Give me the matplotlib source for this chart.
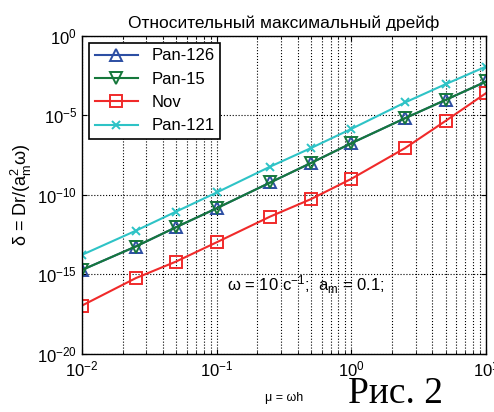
import matplotlib
matplotlib.use('Agg')
from matplotlib import pyplot as plt
import numpy as np

# Data (log10 of delta)
mu = [0.01, 0.025, 0.05, 0.1, 0.25, 0.5, 1.0, 2.5, 5.0, 10.0]
lg_pan126 = [-14.72, -13.25, -12.03, -10.84, -9.22, -8.0, -6.75, -5.18, -4.03, -2.87]
lg_pan15 = [-14.72, -13.25, -12.03, -10.84, -9.22, -8.0, -6.75, -5.18, -4.03, -2.87]
lg_nov = [-16.96, -15.24, -14.19, -12.98, -11.36, -10.27, -8.99, -7.06, -5.35, -3.60]
lg_pan121 = [-13.77, -12.26, -11.05, -9.85, -8.22, -7.06, -5.85, -4.19, -3.04, -1.93]

yticks = [1e-20, 1e-15, 1e-10, 1e-5, 1e0]

plt.rcParams['font.family'] = ['Liberation Sans', 'DejaVu Sans']
plt.rcParams['mathtext.fontset'] = 'custom'
plt.rcParams['mathtext.rm'] = 'Liberation Sans'
plt.rcParams['mathtext.it'] = 'Liberation Sans'

fig = plt.figure(figsize=(4.94, 4.12), dpi=100)
ax = fig.add_axes([0.166, 0.141, 0.818, 0.772])

series = [
    ('Pan-126', lg_pan126, '#2c4ea3', '^', 'none'),
    ('Pan-15', lg_pan15, '#16783c', 'v', 'none'),
    ('Nov', lg_nov, '#f02a2a', 's', 'none'),
    ('Pan-121', lg_pan121, '#2ec3c6', 'x', None),
]
for name, lg, col, mk, fc in series:
    kw = dict(color=col, marker=mk, markersize=8, lw=1.5, label=name,
              markeredgewidth=1.4)
    if fc is not None:
        kw['markerfacecolor'] = fc
    if mk == 'x':
        kw['markersize'] = 6
    ax.plot(mu, 10 ** np.array(lg), **kw)

ax.set_xscale('log')
ax.set_yscale('log')
ax.set_xlim(1e-2, 1e1)
ax.set_ylim(1e-20, 1e0)
ax.set_yticks(yticks)
ax.yaxis.set_minor_locator(matplotlib.ticker.NullLocator())

ax.grid(True, which='major', axis='both', ls=':', color='k', lw=0.8)
ax.grid(True, which='minor', axis='x', ls=':', color='k', lw=0.8)
ax.tick_params(which='both', direction='in', top=True, right=True,
               labelsize=12)
ax.tick_params(axis='x', pad=4)
for s in ax.spines.values():
    s.set_linewidth(1.0)

ax.set_title('Относительный максимальный дрейф', fontsize=12.5, pad=6)
ax.set_ylabel(r'δ = Dr/(a$_{\rm m}^{2}$ω)', fontsize=13, labelpad=2)
ax.set_xlabel('μ = ωh', fontsize=9, labelpad=9)

ax.text(0.12, 10 ** -15.66, r'ω = 10 с$^{-1}$;  a$_{\rm m}$ = 0.1;',
        fontsize=12, va='center')

leg = ax.legend(loc='upper left', fontsize=12, fancybox=False,
                edgecolor='k', framealpha=1, borderaxespad=0.4,
                handlelength=2.6, labelspacing=0.5, borderpad=0.35)
leg.get_frame().set_linewidth(1.2)

fig.text(0.704, 0.022, 'Рис. 2', fontsize=27,
         family=['Liberation Serif', 'DejaVu Serif'])

fig.savefig('out.png', dpi=100)
